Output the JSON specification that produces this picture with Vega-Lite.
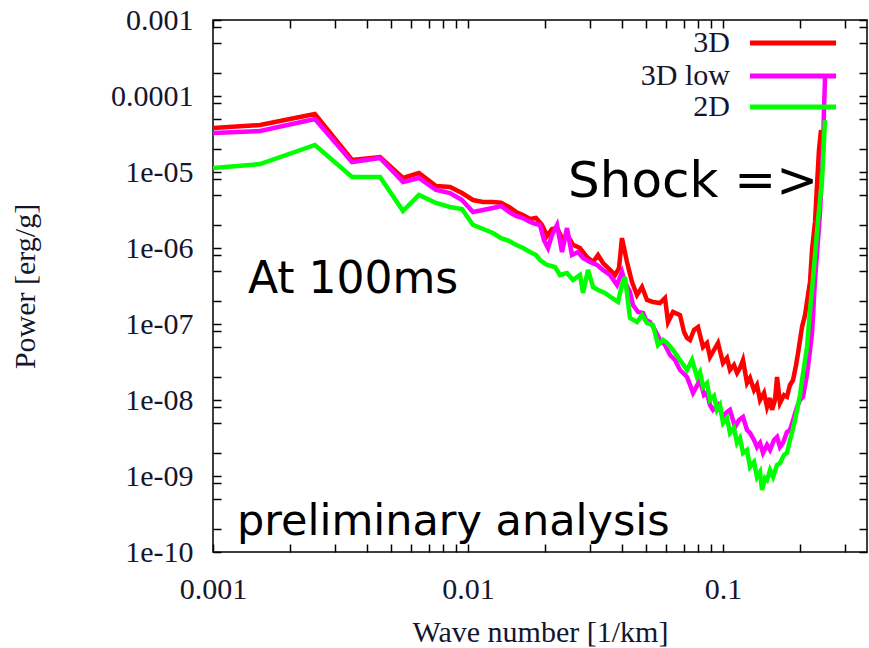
{
  "$schema": "https://vega.github.io/schema/vega-lite/v6.json",
  "width": 654,
  "height": 532,
  "autosize": {"type": "none"},
  "padding": {"left": 213, "top": 20, "right": 2, "bottom": 96},
  "background": "#ffffff",
  "config": {
    "view": {"stroke": "#000000", "strokeWidth": 1.5},
    "axis": {"grid": false, "domain": false, "ticks": true}
  },
  "datasets": {
    "spectra": [
      {"s":"3D","k":0.001,"p":3.79e-5},{"s":"3D","k":0.00153,"p":4.15e-5},{"s":"3D","k":0.00251,"p":5.8e-5},{"s":"3D","k":0.00351,"p":1.44e-5},{"s":"3D","k":0.00452,"p":1.575e-5},{"s":"3D","k":0.00556,"p":8.34e-6},{"s":"3D","k":0.00642,"p":9.7e-6},{"s":"3D","k":0.00749,"p":6.54e-6},{"s":"3D","k":0.0085,"p":6.35e-6},{"s":"3D","k":0.00947,"p":5.29e-6},{"s":"3D","k":0.01046,"p":4.28e-6},{"s":"3D","k":0.01145,"p":4.03e-6},{"s":"3D","k":0.01253,"p":4.03e-6},{"s":"3D","k":0.01347,"p":3.95e-6},{"s":"3D","k":0.01448,"p":3.46e-6},{"s":"3D","k":0.01543,"p":2.98e-6},{"s":"3D","k":0.01643,"p":2.72e-6},{"s":"3D","k":0.01751,"p":2.41e-6},{"s":"3D","k":0.01848,"p":2.48e-6},{"s":"3D","k":0.01951,"p":2.01e-6},{"s":"3D","k":0.02041,"p":1.44e-6},{"s":"3D","k":0.02135,"p":1.78e-6},{"s":"3D","k":0.02234,"p":1.83e-6},{"s":"3D","k":0.02358,"p":1.27e-6},{"s":"3D","k":0.02467,"p":1.44e-6},{"s":"3D","k":0.0258,"p":1.1e-6},{"s":"3D","k":0.02749,"p":1.0e-6},{"s":"3D","k":0.02929,"p":7.61e-7},{"s":"3D","k":0.03092,"p":6.54e-7},{"s":"3D","k":0.03235,"p":8.09e-7},{"s":"3D","k":0.03384,"p":6.35e-7},{"s":"3D","k":0.03605,"p":5.14e-7},{"s":"3D","k":0.03771,"p":4.41e-7},{"s":"3D","k":0.03909,"p":5.45e-7},{"s":"3D","k":0.04016,"p":1.35e-6},{"s":"3D","k":0.04202,"p":6.54e-7},{"s":"3D","k":0.04396,"p":3.57e-7},{"s":"3D","k":0.04599,"p":2.41e-7},{"s":"3D","k":0.04813,"p":3.07e-7},{"s":"3D","k":0.05035,"p":2.07e-7},{"s":"3D","k":0.05314,"p":1.95e-7},{"s":"3D","k":0.05661,"p":1.89e-7},{"s":"3D","k":0.05923,"p":2.2e-7},{"s":"3D","k":0.06086,"p":1.06e-7},{"s":"3D","k":0.06367,"p":1.44e-7},{"s":"3D","k":0.06783,"p":1.31e-7},{"s":"3D","k":0.07033,"p":7.85e-8},{"s":"3D","k":0.07226,"p":6.54e-8},{"s":"3D","k":0.07424,"p":6.16e-8},{"s":"3D","k":0.07697,"p":8.34e-8},{"s":"3D","k":0.0798,"p":9.13e-8},{"s":"3D","k":0.08348,"p":4.98e-8},{"s":"3D","k":0.08655,"p":5.62e-8},{"s":"3D","k":0.08892,"p":3.68e-8},{"s":"3D","k":0.09219,"p":4.55e-8},{"s":"3D","k":0.09559,"p":5.62e-8},{"s":"3D","k":0.1,"p":3.07e-8},{"s":"3D","k":0.1037,"p":3.57e-8},{"s":"3D","k":0.1065,"p":2.48e-8},{"s":"3D","k":0.1104,"p":2.89e-8},{"s":"3D","k":0.1135,"p":2.27e-8},{"s":"3D","k":0.1166,"p":2.64e-8},{"s":"3D","k":0.1198,"p":3.36e-8},{"s":"3D","k":0.1242,"p":1.67e-8},{"s":"3D","k":0.1276,"p":1.95e-8},{"s":"3D","k":0.1323,"p":1.35e-8},{"s":"3D","k":0.1359,"p":1.575e-8},{"s":"3D","k":0.1397,"p":1.0e-8},{"s":"3D","k":0.1448,"p":1.24e-8},{"s":"3D","k":0.1488,"p":8.09e-9},{"s":"3D","k":0.1529,"p":1.06e-8},{"s":"3D","k":0.1557,"p":7.39e-9},{"s":"3D","k":0.1599,"p":1.0e-8},{"s":"3D","k":0.1629,"p":2.01e-8},{"s":"3D","k":0.1673,"p":9.13e-9},{"s":"3D","k":0.1735,"p":1.16e-8},{"s":"3D","k":0.1782,"p":1.1e-8},{"s":"3D","k":0.1831,"p":1.575e-8},{"s":"3D","k":0.1882,"p":1.83e-8},{"s":"3D","k":0.1934,"p":2.89e-8},{"s":"3D","k":0.1969,"p":4.15e-8},{"s":"3D","k":0.2041,"p":9.13e-8},{"s":"3D","k":0.2097,"p":1.31e-7},{"s":"3D","k":0.2154,"p":2.41e-7},{"s":"3D","k":0.2194,"p":3.57e-7},{"s":"3D","k":0.2234,"p":9.41e-7},{"s":"3D","k":0.2295,"p":2.2e-6},{"s":"3D","k":0.2337,"p":6.74e-6},{"s":"3D","k":0.2379,"p":1.95e-5},{"s":"3D","k":0.2423,"p":3.57e-5},

      {"s":"3D low","k":0.001,"p":3.26e-5},{"s":"3D low","k":0.00153,"p":3.46e-5},{"s":"3D low","k":0.00251,"p":4.98e-5},{"s":"3D low","k":0.00351,"p":1.35e-5},{"s":"3D low","k":0.00452,"p":1.53e-5},{"s":"3D low","k":0.00556,"p":7.39e-6},{"s":"3D low","k":0.00642,"p":8.34e-6},{"s":"3D low","k":0.00749,"p":5.8e-6},{"s":"3D low","k":0.0085,"p":5.29e-6},{"s":"3D low","k":0.00947,"p":4.28e-6},{"s":"3D low","k":0.01046,"p":2.98e-6},{"s":"3D low","k":0.01145,"p":3.16e-6},{"s":"3D low","k":0.01253,"p":3.36e-6},{"s":"3D low","k":0.01347,"p":3.57e-6},{"s":"3D low","k":0.01448,"p":2.98e-6},{"s":"3D low","k":0.01543,"p":2.64e-6},{"s":"3D low","k":0.01643,"p":2.48e-6},{"s":"3D low","k":0.01751,"p":2.2e-6},{"s":"3D low","k":0.01848,"p":2.07e-6},{"s":"3D low","k":0.01916,"p":2.01e-6},{"s":"3D low","k":0.01986,"p":1.27e-6},{"s":"3D low","k":0.02059,"p":1.0e-6},{"s":"3D low","k":0.02135,"p":1.48e-6},{"s":"3D low","k":0.02234,"p":2.01e-6},{"s":"3D low","k":0.02337,"p":8.86e-7},{"s":"3D low","k":0.02445,"p":1.83e-6},{"s":"3D low","k":0.02557,"p":8.09e-7},{"s":"3D low","k":0.027,"p":8.86e-7},{"s":"3D low","k":0.02825,"p":7.39e-7},{"s":"3D low","k":0.03009,"p":6.54e-7},{"s":"3D low","k":0.03206,"p":5.97e-7},{"s":"3D low","k":0.03384,"p":5.14e-7},{"s":"3D low","k":0.03605,"p":4.41e-7},{"s":"3D low","k":0.03839,"p":3.26e-7},{"s":"3D low","k":0.04016,"p":4.83e-7},{"s":"3D low","k":0.04127,"p":3.57e-7},{"s":"3D low","k":0.04317,"p":2.64e-7},{"s":"3D low","k":0.04436,"p":1.78e-7},{"s":"3D low","k":0.04642,"p":1.44e-7},{"s":"3D low","k":0.04856,"p":1.4e-7},{"s":"3D low","k":0.04989,"p":1.13e-7},{"s":"3D low","k":0.05172,"p":1.06e-7},{"s":"3D low","k":0.05412,"p":8.34e-8},{"s":"3D low","k":0.05661,"p":6.16e-8},{"s":"3D low","k":0.05923,"p":5.29e-8},{"s":"3D low","k":0.06197,"p":3.91e-8},{"s":"3D low","k":0.06484,"p":3.36e-8},{"s":"3D low","k":0.06783,"p":2.48e-8},{"s":"3D low","k":0.07226,"p":2.01e-8},{"s":"3D low","k":0.07628,"p":1.24e-8},{"s":"3D low","k":0.08125,"p":1.83e-8},{"s":"3D low","k":0.08424,"p":1.16e-8},{"s":"3D low","k":0.08655,"p":1.24e-8},{"s":"3D low","k":0.08892,"p":8.59e-9},{"s":"3D low","k":0.09136,"p":7.39e-9},{"s":"3D low","k":0.09559,"p":8.59e-9},{"s":"3D low","k":0.1,"p":5.97e-9},{"s":"3D low","k":0.1037,"p":6.95e-9},{"s":"3D low","k":0.1065,"p":7.39e-9},{"s":"3D low","k":0.1114,"p":4.41e-9},{"s":"3D low","k":0.1155,"p":5.45e-9},{"s":"3D low","k":0.1198,"p":5.97e-9},{"s":"3D low","k":0.1242,"p":4.03e-9},{"s":"3D low","k":0.1276,"p":3.68e-9},{"s":"3D low","k":0.1323,"p":2.98e-9},{"s":"3D low","k":0.1359,"p":2.41e-9},{"s":"3D low","k":0.1397,"p":2.72e-9},{"s":"3D low","k":0.1435,"p":2.01e-9},{"s":"3D low","k":0.1488,"p":2.56e-9},{"s":"3D low","k":0.1529,"p":2.2e-9},{"s":"3D low","k":0.1585,"p":2.98e-9},{"s":"3D low","k":0.1629,"p":3.26e-9},{"s":"3D low","k":0.1673,"p":2.41e-9},{"s":"3D low","k":0.1719,"p":2.72e-9},{"s":"3D low","k":0.1782,"p":3.79e-9},{"s":"3D low","k":0.1831,"p":4.03e-9},{"s":"3D low","k":0.1882,"p":5.45e-9},{"s":"3D low","k":0.1951,"p":8.09e-9},{"s":"3D low","k":0.2004,"p":1.0e-8},{"s":"3D low","k":0.2059,"p":1.1e-8},{"s":"3D low","k":0.2116,"p":1.83e-8},{"s":"3D low","k":0.2154,"p":2.72e-8},{"s":"3D low","k":0.2194,"p":4.55e-8},{"s":"3D low","k":0.2234,"p":7.61e-8},{"s":"3D low","k":0.2295,"p":3.79e-7},{"s":"3D low","k":0.2358,"p":1.27e-6},{"s":"3D low","k":0.2401,"p":2.89e-6},{"s":"3D low","k":0.2445,"p":1.06e-5},{"s":"3D low","k":0.2467,"p":2.13e-5},{"s":"3D low","k":0.2489,"p":6.54e-5},{"s":"3D low","k":0.2512,"p":1.725e-4},

      {"s":"2D","k":0.001,"p":1.13e-5},{"s":"2D","k":0.00153,"p":1.27e-5},{"s":"2D","k":0.00251,"p":2.27e-5},{"s":"2D","k":0.00351,"p":8.59e-6},{"s":"2D","k":0.00452,"p":8.59e-6},{"s":"2D","k":0.00556,"p":3.07e-6},{"s":"2D","k":0.00642,"p":4.98e-6},{"s":"2D","k":0.00749,"p":3.91e-6},{"s":"2D","k":0.0085,"p":3.46e-6},{"s":"2D","k":0.00947,"p":3.26e-6},{"s":"2D","k":0.01046,"p":2.01e-6},{"s":"2D","k":0.01145,"p":1.78e-6},{"s":"2D","k":0.01253,"p":1.575e-6},{"s":"2D","k":0.01347,"p":1.35e-6},{"s":"2D","k":0.01448,"p":1.24e-6},{"s":"2D","k":0.01543,"p":1.1e-6},{"s":"2D","k":0.01643,"p":1.0e-6},{"s":"2D","k":0.01751,"p":8.86e-7},{"s":"2D","k":0.01848,"p":8.09e-7},{"s":"2D","k":0.01916,"p":6.95e-7},{"s":"2D","k":0.02041,"p":5.97e-7},{"s":"2D","k":0.02194,"p":5.62e-7},{"s":"2D","k":0.02295,"p":4.41e-7},{"s":"2D","k":0.02445,"p":4.69e-7},{"s":"2D","k":0.0258,"p":3.79e-7},{"s":"2D","k":0.02749,"p":4.41e-7},{"s":"2D","k":0.02825,"p":2.56e-7},{"s":"2D","k":0.02955,"p":5.14e-7},{"s":"2D","k":0.03092,"p":3.07e-7},{"s":"2D","k":0.03235,"p":2.8e-7},{"s":"2D","k":0.03446,"p":2.56e-7},{"s":"2D","k":0.0367,"p":2.2e-7},{"s":"2D","k":0.03874,"p":1.95e-7},{"s":"2D","k":0.04016,"p":3.26e-7},{"s":"2D","k":0.04127,"p":4.15e-7},{"s":"2D","k":0.04317,"p":1.2e-7},{"s":"2D","k":0.04599,"p":1.06e-7},{"s":"2D","k":0.04813,"p":1.31e-7},{"s":"2D","k":0.05035,"p":1.03e-7},{"s":"2D","k":0.05314,"p":9.7e-8},{"s":"2D","k":0.0556,"p":5.29e-8},{"s":"2D","k":0.05817,"p":6.16e-8},{"s":"2D","k":0.06031,"p":5.62e-8},{"s":"2D","k":0.06367,"p":4.55e-8},{"s":"2D","k":0.06783,"p":3.36e-8},{"s":"2D","k":0.07226,"p":2.48e-8},{"s":"2D","k":0.07559,"p":3.36e-8},{"s":"2D","k":0.07907,"p":2.01e-8},{"s":"2D","k":0.08125,"p":2.34e-8},{"s":"2D","k":0.08348,"p":1.48e-8},{"s":"2D","k":0.08655,"p":1.67e-8},{"s":"2D","k":0.08892,"p":1.0e-8},{"s":"2D","k":0.09219,"p":1.13e-8},{"s":"2D","k":0.09473,"p":7.39e-9},{"s":"2D","k":0.09732,"p":8.59e-9},{"s":"2D","k":0.1,"p":4.98e-9},{"s":"2D","k":0.1037,"p":5.8e-9},{"s":"2D","k":0.1065,"p":3.68e-9},{"s":"2D","k":0.1104,"p":4.28e-9},{"s":"2D","k":0.1135,"p":2.72e-9},{"s":"2D","k":0.1166,"p":3.16e-9},{"s":"2D","k":0.1198,"p":2.01e-9},{"s":"2D","k":0.1242,"p":2.2e-9},{"s":"2D","k":0.1276,"p":1.31e-9},{"s":"2D","k":0.1323,"p":1.53e-9},{"s":"2D","k":0.1359,"p":9.7e-10},{"s":"2D","k":0.1397,"p":1.13e-9},{"s":"2D","k":0.1422,"p":6.54e-10},{"s":"2D","k":0.1461,"p":9.41e-10},{"s":"2D","k":0.1488,"p":8.86e-10},{"s":"2D","k":0.1529,"p":1.2e-9},{"s":"2D","k":0.1571,"p":9.7e-10},{"s":"2D","k":0.1629,"p":1.4e-9},{"s":"2D","k":0.1673,"p":1.48e-9},{"s":"2D","k":0.1735,"p":1.89e-9},{"s":"2D","k":0.1782,"p":2.01e-9},{"s":"2D","k":0.1831,"p":2.98e-9},{"s":"2D","k":0.1864,"p":3.68e-9},{"s":"2D","k":0.1916,"p":5.45e-9},{"s":"2D","k":0.1951,"p":7.39e-9},{"s":"2D","k":0.2004,"p":1.16e-8},{"s":"2D","k":0.2041,"p":1.83e-8},{"s":"2D","k":0.2097,"p":3.36e-8},{"s":"2D","k":0.2135,"p":4.98e-8},{"s":"2D","k":0.2194,"p":1.53e-7},{"s":"2D","k":0.2234,"p":2.8e-7},{"s":"2D","k":0.2295,"p":8.09e-7},{"s":"2D","k":0.2358,"p":2.34e-6},{"s":"2D","k":0.2445,"p":7.85e-6},{"s":"2D","k":0.2512,"p":4.83e-5}
    ]
  },
  "resolve": {"axis": {"x": "independent", "y": "independent"}},
  "layer": [
    {
      "data": {"name": "spectra"},
      "transform": [{"filter": "datum.s == '3D'"}],
      "mark": {"type": "line", "strokeWidth": 4.5, "clip": true},
      "encoding": {
        "x": {"field": "k", "type": "quantitative",
          "scale": {"type": "log", "domain": [0.001, 0.367], "nice": false},
          "axis": {"orient": "bottom",
            "values": [0.001,0.002,0.003,0.004,0.005,0.006,0.007,0.008,0.009,0.01,0.02,0.03,0.04,0.05,0.06,0.07,0.08,0.09,0.1,0.2,0.3],
            "labelExpr": "abs(log(datum.value)/LN10 - round(log(datum.value)/LN10)) < 0.01 ? format(datum.value, '~g') : ''",
            "ticks": true, "tickSize": -8,
            "tickColor": "#000000", "tickWidth": 1.5,
            "labelFont": "Liberation Serif", "labelFontSize": 30, "labelColor": "#15152e",
            "labelPadding": 30, "labelBaseline": "top", "labelFlush": false, "labelOverlap": false, "labelBound": false,
            "title": "Wave number [1/km]", "titleFont": "Liberation Serif", "titleFontSize": 30, "titleFontWeight": "normal", "titleColor": "#15152e",
            "titleX": 327, "titleY": 80, "titleAlign": "center", "titleBaseline": "middle"}},
        "y": {"field": "p", "type": "quantitative",
          "scale": {"type": "log", "domain": [1e-10, 0.001], "nice": false},
          "axis": {"orient": "left",
            "values": [1e-3,8e-4,5e-4,2e-4,1e-4,8e-5,5e-5,2e-5,1e-5,8e-6,5e-6,2e-6,1e-6,8e-7,5e-7,2e-7,1e-7,8e-8,5e-8,2e-8,1e-8,8e-9,5e-9,2e-9,1e-9,8e-10,5e-10,2e-10,1e-10],
            "labelExpr": "abs(log(datum.value)/LN10 - round(log(datum.value)/LN10)) < 0.01 ? (round(-log(datum.value)/LN10) == 3 ? '0.001' : round(-log(datum.value)/LN10) == 4 ? '0.0001' : '1e-' + (round(-log(datum.value)/LN10) < 10 ? '0' : '') + round(-log(datum.value)/LN10)) : ''",
            "ticks": true, "tickSize": -8,
            "tickColor": "#000000", "tickWidth": 1.5,
            "labelFont": "Liberation Serif", "labelFontSize": 30, "labelColor": "#15152e",
            "labelPadding": 28, "labelBaseline": "middle", "labelFlush": false, "labelOverlap": false, "labelBound": false,
            "title": "Power [erg/g]", "titleFont": "Liberation Serif", "titleFontSize": 30, "titleFontWeight": "normal", "titleColor": "#15152e",
            "titleX": -188, "titleY": 266, "titleAngle": -90, "titleAlign": "center", "titleBaseline": "middle"}},
        "color": {"field": "s", "type": "nominal",
          "scale": {"domain": ["3D", "3D low", "2D"], "range": ["#ff0000", "#ff00ff", "#00ff00"]},
          "legend": null}
      }
    },
    {
      "data": {"name": "spectra"},
      "transform": [{"filter": "datum.s == '3D low'"}],
      "mark": {"type": "line", "strokeWidth": 4.5, "clip": true},
      "encoding": {
        "x": {"field": "k", "type": "quantitative",
          "axis": {"orient": "top", "labels": false, "title": null,
            "values": [0.001,0.002,0.003,0.004,0.005,0.006,0.007,0.008,0.009,0.01,0.02,0.03,0.04,0.05,0.06,0.07,0.08,0.09,0.1,0.2,0.3],
            "ticks": true, "tickSize": -8,
            "tickColor": "#000000", "tickWidth": 1.5}},
        "y": {"field": "p", "type": "quantitative",
          "axis": {"orient": "right", "labels": false, "title": null,
            "values": [1e-3,8e-4,5e-4,2e-4,1e-4,8e-5,5e-5,2e-5,1e-5,8e-6,5e-6,2e-6,1e-6,8e-7,5e-7,2e-7,1e-7,8e-8,5e-8,2e-8,1e-8,8e-9,5e-9,2e-9,1e-9,8e-10,5e-10,2e-10,1e-10],
            "ticks": true, "tickSize": -8,
            "tickColor": "#000000", "tickWidth": 1.5}},
        "color": {"field": "s", "type": "nominal", "legend": null}
      }
    },
    {
      "data": {"name": "spectra"},
      "transform": [{"filter": "datum.s == '2D'"}],
      "mark": {"type": "line", "strokeWidth": 4.5, "clip": true},
      "encoding": {
        "x": {"field": "k", "type": "quantitative", "axis": null},
        "y": {"field": "p", "type": "quantitative", "axis": null},
        "color": {"field": "s", "type": "nominal", "legend": null}
      }
    },
    {
      "data": {"values": [{}]},
      "mark": {"type": "rule", "strokeWidth": 5},
      "encoding": {
        "x": {"datum": 0.1276, "type": "quantitative", "axis": null},
        "x2": {"datum": 0.2775},
        "y": {"datum": 4.98e-4, "type": "quantitative", "axis": null},
        "color": {"datum": "3D", "type": "nominal", "legend": null}
      }
    },
    {
      "data": {"values": [{}]},
      "mark": {"type": "rule", "strokeWidth": 5},
      "encoding": {
        "x": {"datum": 0.1276, "type": "quantitative", "axis": null},
        "x2": {"datum": 0.2775},
        "y": {"datum": 1.83e-4, "type": "quantitative", "axis": null},
        "color": {"datum": "3D low", "type": "nominal", "legend": null}
      }
    },
    {
      "data": {"values": [{}]},
      "mark": {"type": "rule", "strokeWidth": 5},
      "encoding": {
        "x": {"datum": 0.1276, "type": "quantitative", "axis": null},
        "x2": {"datum": 0.2775},
        "y": {"datum": 7.16e-5, "type": "quantitative", "axis": null},
        "color": {"datum": "2D", "type": "nominal", "legend": null}
      }
    },
    {
      "data": {"values": [{}]},
      "mark": {"type": "text", "font": "Liberation Serif", "fontSize": 30, "align": "right", "baseline": "middle", "color": "#15152e"},
      "encoding": {
        "x": {"datum": 0.1065, "type": "quantitative", "axis": null},
        "y": {"datum": 4.98e-4, "type": "quantitative", "axis": null},
        "text": {"value": "3D"}
      }
    },
    {
      "data": {"values": [{}]},
      "mark": {"type": "text", "font": "Liberation Serif", "fontSize": 30, "align": "right", "baseline": "middle", "color": "#15152e"},
      "encoding": {
        "x": {"datum": 0.1065, "type": "quantitative", "axis": null},
        "y": {"datum": 1.83e-4, "type": "quantitative", "axis": null},
        "text": {"value": "3D low"}
      }
    },
    {
      "data": {"values": [{}]},
      "mark": {"type": "text", "font": "Liberation Serif", "fontSize": 30, "align": "right", "baseline": "middle", "color": "#15152e"},
      "encoding": {
        "x": {"datum": 0.1065, "type": "quantitative", "axis": null},
        "y": {"datum": 7.16e-5, "type": "quantitative", "axis": null},
        "text": {"value": "2D"}
      }
    },
    {
      "data": {"values": [{}]},
      "mark": {"type": "text", "font": "DejaVu Sans", "fontSize": 50, "align": "left", "baseline": "alphabetic", "color": "#000000"},
      "encoding": {
        "x": {"datum": 0.02466, "type": "quantitative", "axis": null},
        "y": {"datum": 4.69e-6, "type": "quantitative", "axis": null},
        "text": {"value": "Shock =>"}
      }
    },
    {
      "data": {"values": [{}]},
      "mark": {"type": "text", "font": "DejaVu Sans", "fontSize": 44, "align": "left", "baseline": "alphabetic", "color": "#000000"},
      "encoding": {
        "x": {"datum": 0.001371, "type": "quantitative", "axis": null},
        "y": {"datum": 2.56e-7, "type": "quantitative", "axis": null},
        "text": {"value": "At 100ms"}
      }
    },
    {
      "data": {"values": [{}]},
      "mark": {"type": "text", "font": "DejaVu Sans", "fontSize": 43, "align": "left", "baseline": "alphabetic", "color": "#000000"},
      "encoding": {
        "x": {"datum": 0.001242, "type": "quantitative", "axis": null},
        "y": {"datum": 1.675e-10, "type": "quantitative", "axis": null},
        "text": {"value": "preliminary analysis"}
      }
    }
  ]
}
